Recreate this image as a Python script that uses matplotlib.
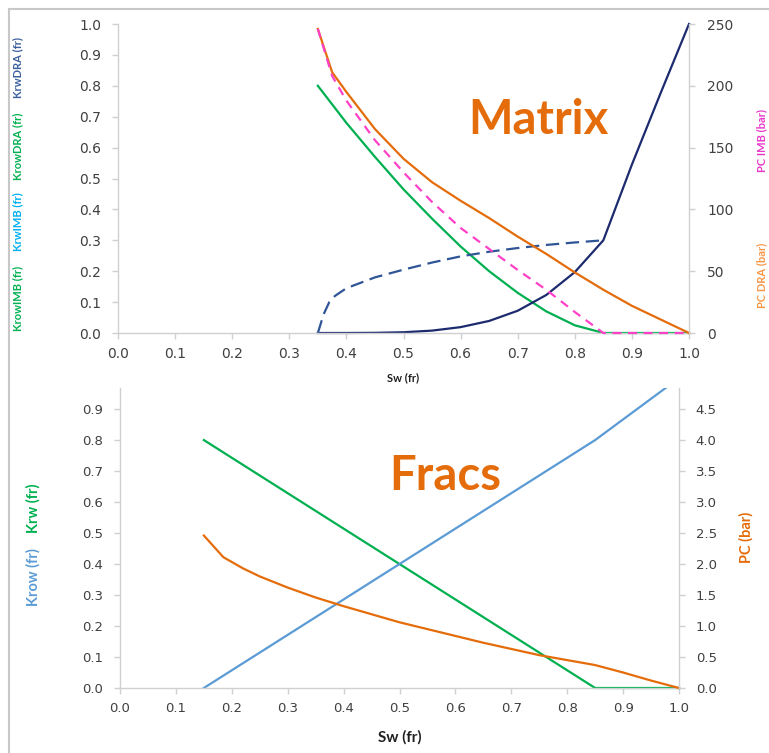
import matplotlib
matplotlib.use("Agg")
import matplotlib.pyplot as plt
from matplotlib.lines import Line2D
from matplotlib.ticker import FormatStrFormatter, MultipleLocator

# ---- matrix (top) data ----
sw_m = [0.35, 0.375, 0.40, 0.45, 0.50, 0.55, 0.60, 0.65, 0.70, 0.75, 0.80, 0.85, 0.90, 0.95, 1.00]
krow_m = [0.80, 0.74, 0.68, 0.57, 0.465, 0.37, 0.28, 0.20, 0.13, 0.07, 0.025, 0.0, 0.0, 0.0, 0.0]
krw_dra = [0.0, 0.0, 0.00003, 0.0005, 0.0024, 0.0077, 0.019, 0.039, 0.072, 0.123, 0.197, 0.30, 0.545, 0.775, 1.0]
pc_dra = [246, 211, 195, 165, 141, 122, 107, 93, 78, 64, 49, 35, 22, 11, 0]
pc_imb = [246, 208, 188, 156, 130, 106, 85, 68, 51, 35, 17, 0, 0, 0, 0]

sw_imb = [0.35, 0.36, 0.37, 0.38, 0.40, 0.45, 0.50, 0.55, 0.60, 0.65, 0.70, 0.75, 0.80, 0.85]
krw_imb = [0.0, 0.06, 0.10, 0.12, 0.145, 0.18, 0.205, 0.228, 0.248, 0.263, 0.275, 0.285, 0.293, 0.30]

# ---- fracs (bottom) data ----
sw_f = [0.15, 0.85, 1.00]
krw_f = [0.80, 0.0, 0.0]
krow_f = [0.0, 0.80, 1.00]
sw_pc_f = [0.15, 0.185, 0.22, 0.25, 0.30, 0.35, 0.40, 0.45, 0.50, 0.55, 0.60,
           0.65, 0.70, 0.75, 0.80, 0.85, 0.90, 0.95, 1.00]
pc_f = [2.46, 2.11, 1.93, 1.80, 1.62, 1.46, 1.32, 1.19, 1.06, 0.95, 0.84,
        0.73, 0.63, 0.53, 0.45, 0.37, 0.25, 0.12, 0.0]

W, H = 769, 753
ORANGE = "#e46c0a"
GREEN = "#00b050"
NAVY = "#1c2b6e"
DASHBLUE = "#2f5597"
PINK = "#ff40c8"
LBLUE = "#5b9bd5"
GRID = "#d0d0d0"
TXT = "#404040"
LBL = "Lato"


def box(x0, y0, x1, y1):
    # pixel box -> figure fraction rect
    return [x0 / W, 1 - y1 / H, (x1 - x0) / W, (y1 - y0) / H]


def fx(x, y):
    return x / W, 1 - y / H


def style(ax, side, pad):
    for s in ax.spines.values():
        s.set_visible(False)
    for s in side:
        ax.spines[s].set_visible(True)
        ax.spines[s].set_color(GRID)
        ax.spines[s].set_linewidth(1.0)
    ax.tick_params(colors=GRID, labelcolor=TXT, length=4, width=1, pad=pad,
                   labelsize=10)
    ax.patch.set_visible(False)


fig = plt.figure(figsize=(W / 100, H / 100), dpi=100)

# ================= top chart =================
ax1 = fig.add_axes(box(118, 24, 689, 333))
ax1r = ax1.twinx()
style(ax1, ["left", "bottom"], 8)
style(ax1r, ["right"], 9)
ax1.tick_params(axis="x", pad=6)

ax1.plot(sw_m, krow_m, color=GREEN, lw=1.6, clip_on=False)
ax1.plot(sw_m, krw_dra, color=NAVY, lw=1.6, clip_on=False)
ax1.plot(sw_imb, krw_imb, color=DASHBLUE, lw=1.6, dashes=(6, 3), clip_on=False)
ax1r.plot(sw_m, pc_dra, color=ORANGE, lw=1.6, clip_on=False)
ax1r.plot(sw_m, pc_imb, color=PINK, lw=1.6, dashes=(4, 3), clip_on=False)

ax1.set_xlim(0, 1)
ax1.set_ylim(0, 1)
ax1r.set_ylim(0, 250)
ax1.xaxis.set_major_locator(MultipleLocator(0.1))
ax1.yaxis.set_major_locator(MultipleLocator(0.1))
ax1r.yaxis.set_major_locator(MultipleLocator(50))
ax1.xaxis.set_major_formatter(FormatStrFormatter("%.1f"))
ax1.yaxis.set_major_formatter(FormatStrFormatter("%.1f"))

fig.text(*fx(403, 378), "Sw (fr)", ha="center", va="center", fontsize=8,
         fontweight="bold", family=LBL, color="#202020")
fig.text(*fx(538, 120), "Matrix", ha="center", va="center", fontsize=34,
         fontweight="bold", family=LBL, color=ORANGE)

for txt, yc, col in [("KrwDRA (fr)", 68, "#3b5f9e"),
                     ("KrowDRA (fr)", 146, GREEN),
                     ("KrwIMB (fr)", 222, "#00b0f0"),
                     ("KrowIMB (fr)", 298, GREEN)]:
    fig.text(*fx(17.5, yc), txt, rotation=90, ha="center", va="center",
             fontsize=8, fontweight="bold", family=LBL, color=col)

# right labels, hugging the image edge
fig.text(*fx(767, 140), "PC IMB (bar)", rotation=90, ha="right", va="center",
         fontsize=8, fontweight="bold", family=LBL, color="#e838c8")
fig.text(*fx(767, 275), "PC DRA (bar)", rotation=90, ha="right", va="center",
         fontsize=8, fontweight="bold", family=LBL, color="#f79646")

# ================= bottom chart =================
ymax_f = 0.968
ax2 = fig.add_axes(box(120, 388, 679, 688))
ax2r = ax2.twinx()
style(ax2, ["left", "bottom"], 8)
style(ax2r, ["right"], 8)
ax2.tick_params(axis="both", labelsize=9.5)
ax2r.tick_params(axis="y", labelsize=9.5)
ax2.tick_params(axis="x", pad=6)

ax2.plot(sw_f, krw_f, color=GREEN, lw=1.6, clip_on=False)
ax2.plot(sw_f, krow_f, color=LBLUE, lw=1.6)
ax2r.plot(sw_pc_f, pc_f, color=ORANGE, lw=1.6, clip_on=False)

ax2.set_xlim(0, 1)
ax2.set_ylim(0, ymax_f)
ax2r.set_ylim(0, ymax_f * 5)
ax2.xaxis.set_major_locator(MultipleLocator(0.1))
ax2.yaxis.set_major_locator(MultipleLocator(0.1))
ax2r.yaxis.set_major_locator(MultipleLocator(0.5))
ax2.xaxis.set_major_formatter(FormatStrFormatter("%.1f"))
ax2.yaxis.set_major_formatter(FormatStrFormatter("%.1f"))
ax2r.yaxis.set_major_formatter(FormatStrFormatter("%.1f"))

fig.text(*fx(400, 737), "Sw (fr)", ha="center", va="center", fontsize=11,
         fontweight="bold", family=LBL, color="#202020")
fig.text(*fx(445, 476), "Fracs", ha="center", va="center", fontsize=34,
         fontweight="bold", family=LBL, color=ORANGE)
fig.text(*fx(33, 508), "Krw (fr)", rotation=90, ha="center", va="center",
         fontsize=10.5, fontweight="bold", family=LBL, color=GREEN)
fig.text(*fx(33, 577), "Krow (fr)", rotation=90, ha="center", va="center",
         fontsize=10.5, fontweight="bold", family=LBL, color=LBLUE)
fig.text(*fx(746, 537), "PC (bar)", rotation=90, ha="center", va="center",
         fontsize=10.5, fontweight="bold", family=LBL, color=ORANGE)

# outer frame (left and top edges only visible)
fig.add_artist(Line2D([9 / W, 9 / W], [0, 1 - 9 / H], color="#c8c8c8", lw=1.5))
fig.add_artist(Line2D([9 / W, 1], [1 - 9 / H, 1 - 9 / H], color="#c8c8c8", lw=1.5))

fig.savefig("out.png", dpi=100)
